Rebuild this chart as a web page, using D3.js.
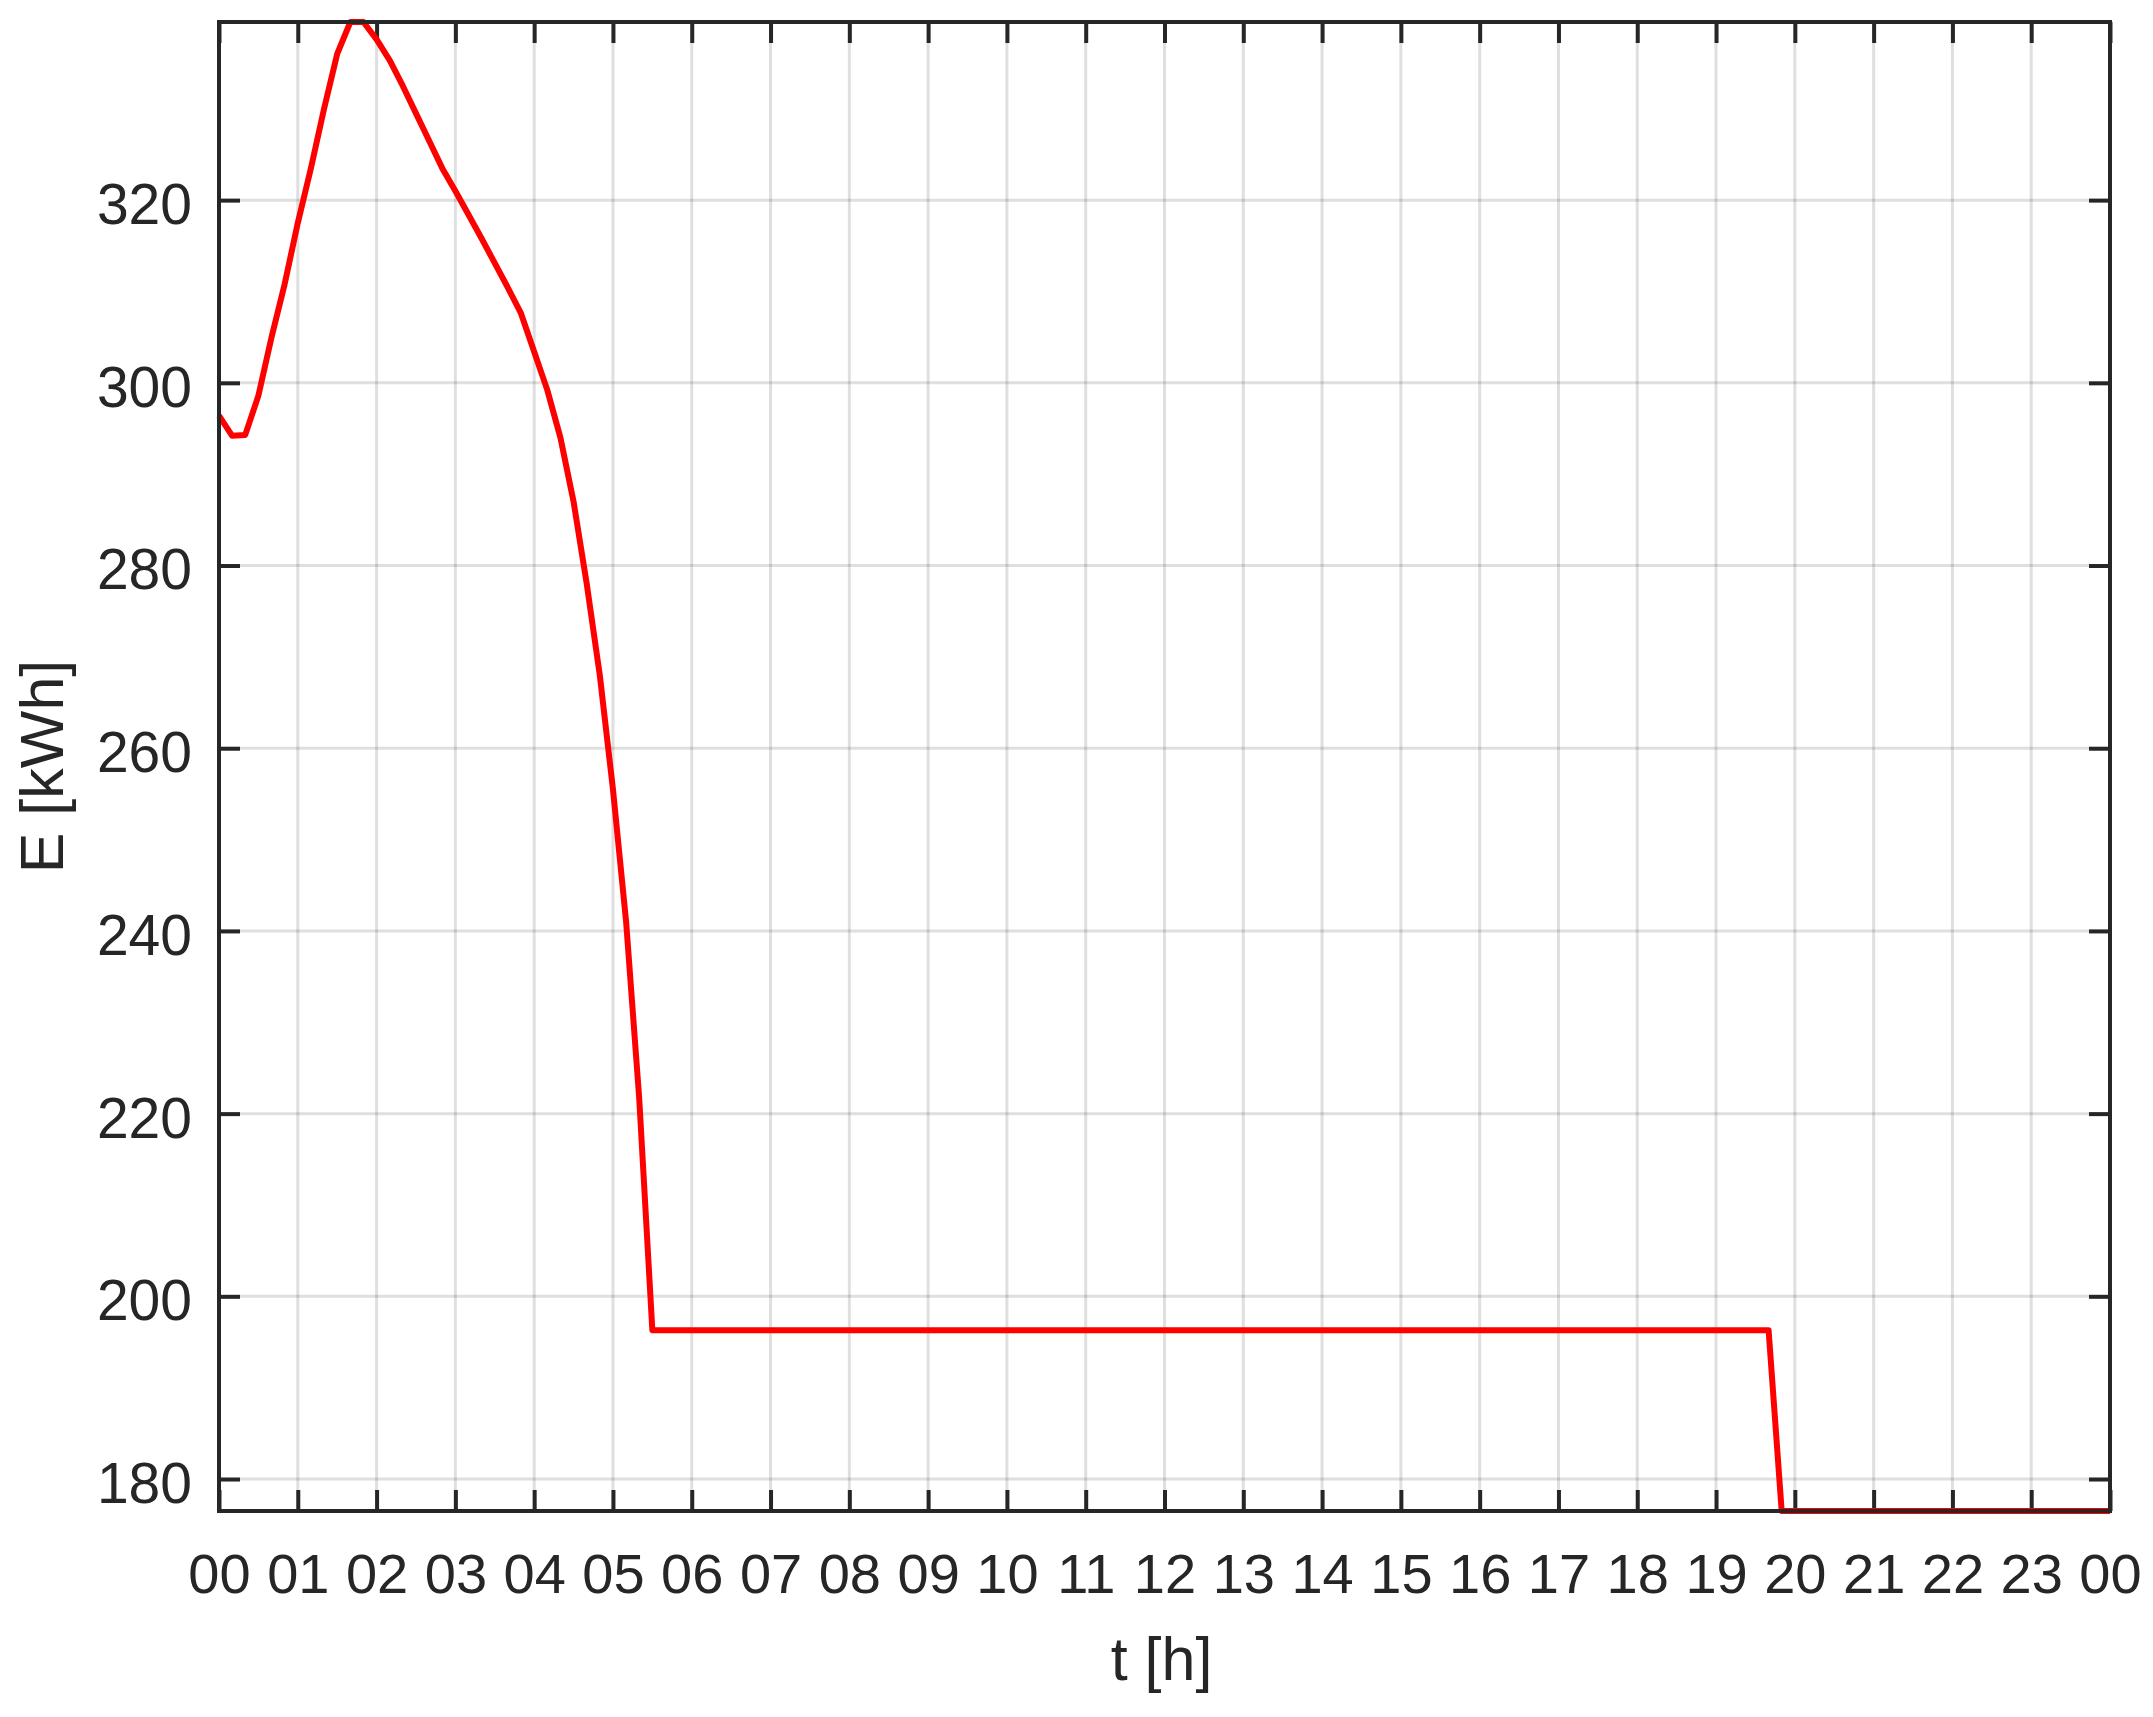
<!DOCTYPE html>
<html>
<head>
<meta charset="utf-8">
<script src="https://cdn.jsdelivr.net/npm/d3@7"></script>
<style>
  body { margin: 0; background: #fff; }
  text { font-family: "Liberation Sans", Arial, sans-serif; fill: #262626; }
</style>
</head>
<body>
<div id="chart"></div>
<script>
// time in hours, energy in kWh
var hours = [0, 0.167, 0.333, 0.5, 0.667, 0.833, 1.0, 1.167, 1.333, 1.5, 1.667, 1.833,
             2.0, 2.167, 2.333, 2.5, 2.667, 2.833, 3.0, 3.167, 3.333, 3.5, 3.667, 3.833,
             4.0, 4.167, 4.333, 4.5, 4.667, 4.833, 5.0, 5.167, 5.333, 5.5,
             19.667, 19.833, 24];
var energy = [296.4, 294.2, 294.3, 298.6, 305.0, 310.8, 317.5, 323.5, 330.0, 336.0, 339.5, 339.5,
              337.6, 335.3, 332.5, 329.5, 326.5, 323.5, 321.0, 318.4, 315.8, 313.1, 310.4, 307.6,
              303.4, 299.2, 294.0, 287.0, 278.0, 268.0, 255.5, 241.0, 221.7, 196.3,
              196.3, 176.5, 176.5];
var xTicks = d3.range(0, 25);
var yTicks = [180, 200, 220, 240, 260, 280, 300, 320];
var yDomain = [176.5, 339.5];

var W = 2153, H = 1717;
var margin = {left: 219, right: 43, top: 22, bottom: 206};
var w = W - margin.left - margin.right,
    h = H - margin.top - margin.bottom;

var svg = d3.select("#chart").append("svg")
    .attr("width", W)
    .attr("height", H);

var g = svg.append("g")
    .attr("transform", "translate(" + margin.left + "," + margin.top + ")");

var x = d3.scaleLinear().domain([0, 24]).range([0, w]);
var y = d3.scaleLinear().domain(yDomain).range([h, 0]);

// grid
g.append("g").selectAll("line")
    .data(xTicks.slice(1, -1))
    .enter().append("line")
    .attr("x1", function (d) { return x(d); })
    .attr("x2", function (d) { return x(d); })
    .attr("y1", 0).attr("y2", h)
    .attr("stroke", "#262626")
    .attr("stroke-opacity", 0.15)
    .attr("stroke-width", 3);

g.append("g").selectAll("line")
    .data(yTicks)
    .enter().append("line")
    .attr("y1", function (d) { return y(d); })
    .attr("y2", function (d) { return y(d); })
    .attr("x1", 0).attr("x2", w)
    .attr("stroke", "#262626")
    .attr("stroke-opacity", 0.15)
    .attr("stroke-width", 3);

// inward tick marks on all four sides
var tl = 21;
function styleTicks(sel) {
    sel.select(".domain").remove();
    sel.selectAll("line").attr("stroke", "#262626").attr("stroke-width", 4);
    sel.selectAll("text").remove();
}
g.append("g").attr("transform", "translate(0," + h + ")")
    .call(d3.axisBottom(x).tickValues(xTicks).tickSize(-tl)).call(styleTicks);
g.append("g")
    .call(d3.axisTop(x).tickValues(xTicks).tickSize(-tl)).call(styleTicks);
g.append("g")
    .call(d3.axisLeft(y).tickValues(yTicks).tickSize(-tl)).call(styleTicks);
g.append("g").attr("transform", "translate(" + w + ",0)")
    .call(d3.axisRight(y).tickValues(yTicks).tickSize(-tl)).call(styleTicks);

// data line
var line = d3.line()
    .x(function (d, i) { return x(hours[i]); })
    .y(function (d) { return y(d); });

g.append("path")
    .datum(energy)
    .attr("d", line)
    .attr("fill", "none")
    .attr("stroke", "#ff0000")
    .attr("stroke-width", 6)
    .attr("stroke-linejoin", "round");

// box
g.append("rect")
    .attr("width", w).attr("height", h)
    .attr("fill", "none")
    .attr("stroke", "#262626")
    .attr("stroke-width", 4);

// tick labels
var xAxis = g.append("g").attr("transform", "translate(0," + h + ")")
    .call(d3.axisBottom(x).tickValues(xTicks).tickSize(0).tickPadding(42)
        .tickFormat(function (d) { return String(d % 24).padStart(2, "0"); }));
xAxis.select(".domain").remove();
xAxis.selectAll("text")
    .attr("font-size", "56px")
    .attr("font-family", "Liberation Sans, Arial, sans-serif")
    .attr("fill", "#262626");

var yAxis = g.append("g")
    .call(d3.axisLeft(y).tickValues(yTicks).tickSize(0).tickPadding(27));
yAxis.select(".domain").remove();
yAxis.selectAll("text")
    .attr("dy", "0.41em")
    .attr("font-size", "57px")
    .attr("font-family", "Liberation Sans, Arial, sans-serif")
    .attr("fill", "#262626");

// axis titles
svg.append("text")
    .attr("x", margin.left + w / 2 - 3)
    .attr("y", 1680)
    .attr("text-anchor", "middle")
    .attr("font-size", "61px")
    .text("t [h]");

svg.append("text")
    .attr("transform", "translate(63," + (margin.top + h / 2) + ") rotate(-90)")
    .attr("text-anchor", "middle")
    .attr("font-size", "61px")
    .text("E [kWh]");
</script>
</body>
</html>
